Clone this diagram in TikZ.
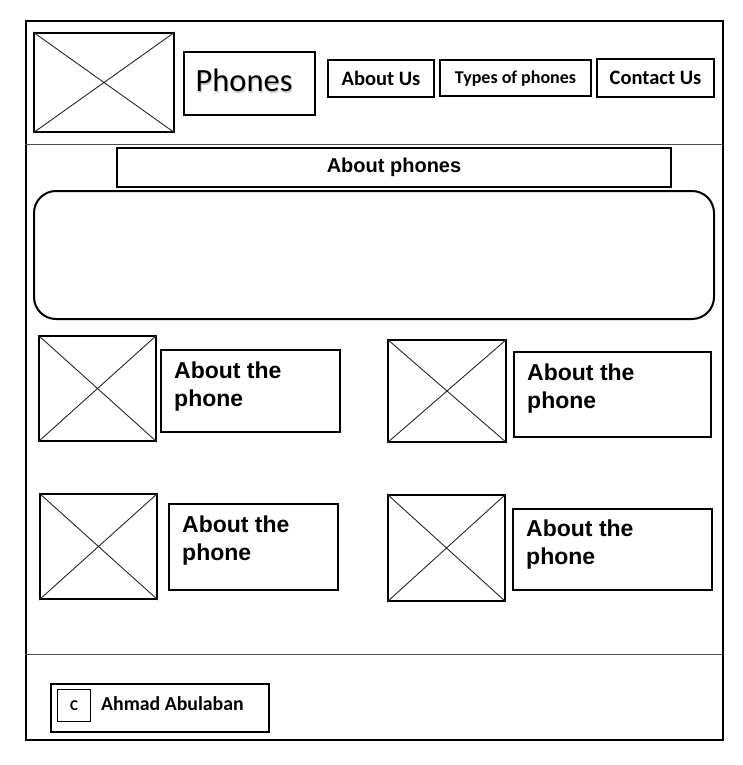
\documentclass[tikz,border=0pt]{standalone}
\usepackage{fontspec}
\setmainfont{Liberation Sans}
\newfontfamily\carlito{Carlito}

\begin{document}
\begin{tikzpicture}[x=1pt,y=-1pt,
  frame/.style={draw=black, line width=2pt, inner sep=0pt, anchor=north west},
  thinframe/.style={draw=black, line width=1pt, inner sep=0pt, anchor=north west},
  cross/.style={draw=black!85, line width=0.9pt},
  divider/.style={draw=black!70, line width=1pt},
  navtext/.style={font=\carlito\bfseries\fontsize{20.5}{24}\selectfont, inner sep=0pt},
  infotext/.style={font=\bfseries\fontsize{23}{28}\selectfont, align=left, inner sep=0pt, anchor=north west},
]
\useasboundingbox (0,0) rectangle (743,765);

% page frame and section dividers
\node[frame, minimum width=697pt, minimum height=719pt] (page) at (25,20) {};
\coordinate (hl) at (25,144.5);
\coordinate (hr) at (722,144.5);
\coordinate (fl) at (25,654.5);
\coordinate (fr) at (722,654.5);
\draw[divider] (hl) -- (hr);
\draw[divider] (fl) -- (fr);

% header: logo placeholder, title and navigation
\node[frame, minimum width=140pt, minimum height=99pt] (logo) at (33,32) {};
\draw[cross] (logo.north west) -- (logo.south east) (logo.north east) -- (logo.south west);

\node[frame, minimum width=131pt, minimum height=63pt] (title) at (183,51) {};
\node[anchor=base, inner sep=0pt, text=black!18, font=\carlito\fontsize{32.5}{36}\selectfont] (titleshadow) at (245,93.2) {Phones};
\node[anchor=base, inner sep=0pt, font=\carlito\fontsize{32.5}{36}\selectfont] (titletext) at (244,92) {Phones};

\node[frame, minimum width=106pt, minimum height=37pt] (nav1) at (327,59) {};
\node[navtext] (nav1text) at (nav1.center) {About Us};
\node[frame, minimum width=151pt, minimum height=36pt] (nav2) at (439,59.5) {};
\node[navtext, font=\carlito\bfseries\fontsize{18}{21}\selectfont] (nav2text) at (nav2.center) {Types of phones};
\node[frame, minimum width=117pt, minimum height=38pt] (nav3) at (596,58) {};
\node[navtext] (nav3text) at (nav3.center) {Contact Us};

% section heading and content panel
\node[frame, minimum width=554pt, minimum height=39pt] (heading) at (116,147) {};
\node[inner sep=0pt, font=\bfseries\fontsize{20}{24}\selectfont] (headingtext) at (heading.center) {About phones};
\node[frame, rounded corners=22pt, minimum width=680pt, minimum height=128pt] (panel) at (33,190) {};

% phone cards
\node[frame, minimum width=117pt, minimum height=105pt] (img1) at (38,335) {};
\draw[cross] (img1.north west) -- (img1.south east) (img1.north east) -- (img1.south west);
\node[frame, minimum width=179pt, minimum height=82pt] (card1) at (160,349) {};
\node[infotext] (card1text) at (174,362) {About the\\phone};

\node[frame, minimum width=118pt, minimum height=102pt] (img2) at (387,339) {};
\draw[cross] (img2.north west) -- (img2.south east) (img2.north east) -- (img2.south west);
\node[frame, minimum width=197pt, minimum height=85pt] (card2) at (513,351) {};
\node[infotext] (card2text) at (527,364) {About the\\phone};

\node[frame, minimum width=117pt, minimum height=105pt] (img3) at (39,493) {};
\draw[cross] (img3.north west) -- (img3.south east) (img3.north east) -- (img3.south west);
\node[frame, minimum width=169pt, minimum height=86pt] (card3) at (168,503) {};
\node[infotext] (card3text) at (182,516) {About the\\phone};

\node[frame, minimum width=117pt, minimum height=106pt] (img4) at (387,494) {};
\draw[cross] (img4.north west) -- (img4.south east) (img4.north east) -- (img4.south west);
\node[frame, minimum width=199pt, minimum height=81pt] (card4) at (512,508) {};
\node[infotext] (card4text) at (526,520) {About the\\phone};

% footer
\node[frame, minimum width=218pt, minimum height=48pt] (footer) at (50,683) {};
\node[thinframe, minimum width=33pt, minimum height=32pt] (copy) at (57,689) {};
\node[inner sep=0pt, font=\carlito\bfseries\fontsize{15}{17}\selectfont] (copytext) at (copy.center) {C};
\node[anchor=base west, inner sep=0pt, font=\carlito\bfseries\fontsize{19.8}{22}\selectfont] (author) at (101,710) {Ahmad Abulaban};
\end{tikzpicture}
\end{document}
